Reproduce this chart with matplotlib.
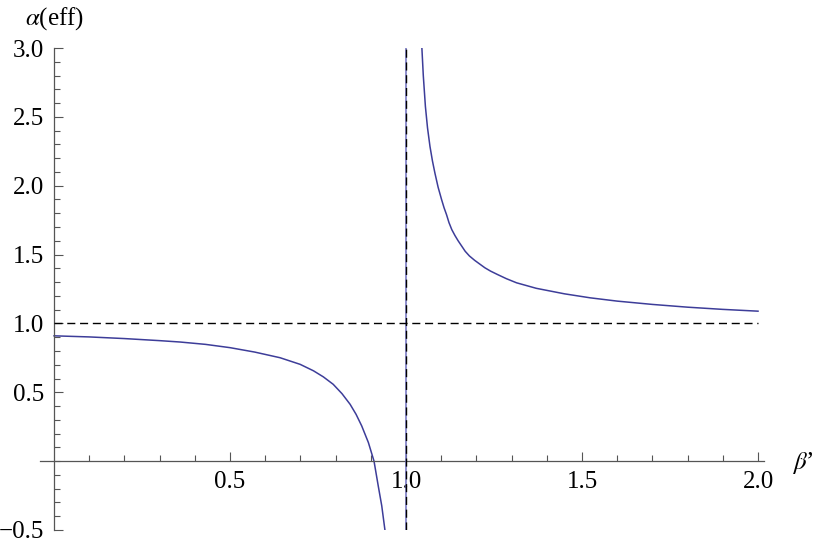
import matplotlib
matplotlib.use("Agg")
import matplotlib.pyplot as plt
import numpy as np

# values
beta_left = [0.0, 0.1, 0.2, 0.3, 0.358, 0.43, 0.5, 0.57, 0.642, 0.699, 0.737, 0.765,
             0.793, 0.818, 0.841, 0.858, 0.874, 0.893, 0.909, 0.921, 0.931, 0.94]
alpha_left = [0.91, 0.902, 0.89, 0.875, 0.865, 0.848, 0.824, 0.792, 0.751, 0.703, 0.656, 0.612,
              0.558, 0.49, 0.413, 0.34, 0.256, 0.135, 0.0, -0.18, -0.325, -0.5]

beta_right = [1.045, 1.049, 1.055, 1.061, 1.068, 1.075, 1.082, 1.091, 1.101, 1.108,
              1.115, 1.122, 1.130, 1.139, 1.148, 1.158, 1.168, 1.18, 1.195, 1.21,
              1.224, 1.24, 1.26, 1.285, 1.314, 1.37, 1.45, 1.523, 1.6, 1.7,
              1.8, 1.9, 2.0]
alpha_right = [3.0, 2.8, 2.575, 2.42, 2.285, 2.18, 2.092, 1.99, 1.899, 1.84,
               1.79, 1.732, 1.681, 1.638, 1.60, 1.562, 1.524, 1.49, 1.458, 1.43,
               1.404, 1.38, 1.355, 1.325, 1.295, 1.255, 1.215, 1.186, 1.162, 1.138,
               1.118, 1.102, 1.089]

pole_beta = 1.0
limit_alpha = 1.0
beta_range = (0.0, 2.0)
alpha_range = (-0.5, 3.0)

x_major = [0.5, 1.0, 1.5, 2.0]
x_labels = ["0.5", "1.0", "1.5", "2.0"]
y_major = [-0.5, 0.5, 1.0, 1.5, 2.0, 2.5, 3.0]
y_labels = ["\u22120.5", "0.5", "1.0", "1.5", "2.0", "2.5", "3.0"]

plt.rcParams["font.family"] = ["Liberation Serif", "DejaVu Serif"]
plt.rcParams["mathtext.fontset"] = "stix"
plt.rcParams["lines.scale_dashes"] = False

curve_color = "#3d3d99"
axis_color = "#555555"

fig = plt.figure(figsize=(8.17, 5.45), dpi=100)
ax = fig.add_axes([40 / 817, 15 / 545, 724 / 817, 482 / 545])

ax.plot(beta_left, alpha_left, color=curve_color, lw=1.1, solid_joinstyle="round")
ax.plot(beta_right, alpha_right, color=curve_color, lw=1.1, solid_joinstyle="round")
ax.plot([pole_beta, pole_beta], alpha_range, color="#6f6fbf", lw=1.1, zorder=3)
ax.plot([pole_beta, pole_beta], alpha_range, color="black", lw=1.0,
        dashes=(5.8, 3.4), zorder=4)
ax.plot(beta_range, [limit_alpha, limit_alpha], color="black", lw=1.0,
        dashes=(5.8, 3.4), zorder=4)

ax.set_xlim(-0.04, 2.017)
ax.set_ylim(*alpha_range)

for side in ("top", "right"):
    ax.spines[side].set_visible(False)
ax.spines["left"].set_position(("data", 0))
ax.spines["bottom"].set_position(("data", 0))
for side in ("left", "bottom"):
    ax.spines[side].set_color(axis_color)
    ax.spines[side].set_linewidth(0.9)

ax.set_xticks(x_major)
ax.set_xticklabels(x_labels)
ax.set_xticks(np.round(np.arange(0.1, 2.01, 0.1), 2), minor=True)
ax.set_yticks(y_major)
ax.set_yticklabels(y_labels)
ax.set_yticks(np.round(np.arange(-0.4, 3.0, 0.1), 2), minor=True)

ax.tick_params(which="both", direction="in", color=axis_color, width=0.8,
               labelsize=18)
ax.tick_params(which="major", length=6.5)
ax.tick_params(which="minor", length=4.3)
ax.tick_params(axis="x", which="major", pad=7)
ax.tick_params(axis="y", which="major", pad=7)

fig.text(55 / 817, 1 - 19 / 545, "$\\alpha$(eff)", fontsize=18,
         ha="center", va="center")
fig.text(792 / 817, 1 - 463 / 545, "$\\beta$\u2019", fontsize=18,
         ha="left", va="center")

fig.savefig("out.png", dpi=100)
